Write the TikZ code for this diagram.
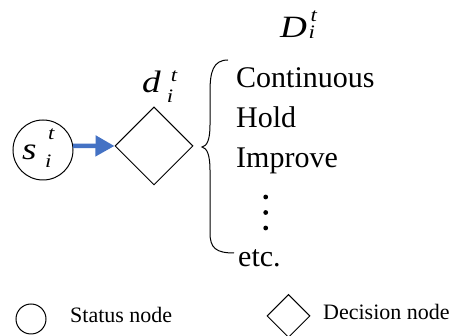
\documentclass[tikz,border=0pt]{standalone}
\usepackage{graphicx}
\usepackage{fontspec}
\setmainfont{Liberation Serif}
\usetikzlibrary{shapes.geometric,arrows.meta}
\definecolor{flowblue}{HTML}{4472C4}
\newcommand{\bigsz}{\fontsize{31}{36}\selectfont}
\newcommand{\scrsz}{\fontsize{19}{22}\selectfont}
\newcommand{\itemsz}{\fontsize{30}{36}\selectfont}
\newcommand{\keysz}{\fontsize{22}{26}\selectfont}
% wide italic symbol letter and its script letters
\newcommand{\symletter}[1]{\scalebox{1.2}[1]{\bigsz\textit{#1}}}
\newcommand{\scrletter}[1]{\scalebox{1.2}[1]{\scrsz\textit{#1}}}
% #1 letter, #2 gap before scripts, #3 extra shift of t, #4 raise of t, #5 drop of i
\newcommand{\symlbl}[5]{\symletter{#1}\kern#2\rlap{\kern#3\raisebox{#4}{\scrletter{t}}}\raisebox{#5}{\scrletter{i}}}
\begin{document}
\begin{tikzpicture}[x=1pt,y=-1pt,
  statusnode/.style={draw,circle,line width=1pt,inner sep=0pt},
  decisionnode/.style={draw,diamond,line width=1pt,inner sep=0pt,aspect=1},
  txt/.style={anchor=base west,inner sep=0pt},
  flow/.style={draw=flowblue,line width=4.5pt,-{Triangle[length=19pt,width=20pt]}},
  bracepath/.style={line width=1pt}]
\useasboundingbox (0,0) rectangle (451,336);

% status node s_i^t
\node[statusnode,minimum size=60pt] (s) at (43,150) {};
\node[txt] (slbl) at (22,160) {\symlbl{s}{8.5pt}{3pt}{20pt}{-8pt}};

% decision node d_i^t
\node[decisionnode,minimum width=78pt,minimum height=78pt] (d) at (154,146) {};
\node[txt] (dlbl) at (142,93) {\symlbl{d}{6pt}{4pt}{11pt}{-10pt}};

\draw[flow] (s.8) -- (d.west);

% decision set D_i^t
\node[txt] (Dlbl) at (280,38) {\symlbl{D}{1.5pt}{2pt}{16pt}{-1pt}};

\draw[bracepath] (228,60) .. controls (213,60) and (210,72) .. (210,92)
  -- (210,125) .. controls (210,140) and (207,146) .. (202,147)
  .. controls (207,148) and (210,155) .. (210,170)
  -- (210,233) .. controls (210,248) and (216,253) .. (234,253);

\node[txt] (opt1) at (236,88) {\itemsz Continuous};
\node[txt] (opt2) at (236,128) {\itemsz Hold};
\node[txt] (opt3) at (236,168) {\itemsz Improve};
\fill (265.7,197) circle (2.4) (265.7,212.5) circle (2.4) (265.7,228) circle (2.4);
\node[txt] (opt4) at (238,267) {\itemsz etc.};

% legend
\node[statusnode,minimum size=30pt] (keys) at (31,319) {};
\node[txt] (keystxt) at (70,323) {\keysz Status node};
\node[decisionnode,minimum width=43pt,minimum height=43pt] (keyd) at (288.5,316) {};
\node[txt] (keydtxt) at (323,320) {\keysz Decision node};
\end{tikzpicture}
\end{document}
